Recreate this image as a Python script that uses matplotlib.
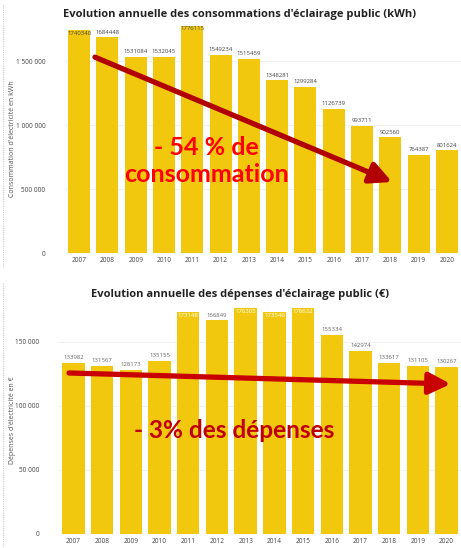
import matplotlib
matplotlib.use("Agg")
import matplotlib.pyplot as plt
from matplotlib.lines import Line2D
from matplotlib.ticker import FuncFormatter

years = [str(y) for y in range(2007, 2021)]
conso_kwh = [1740340, 1684448, 1531084, 1532045, 1776115, 1549234, 1515459,
             1348281, 1299284, 1126739, 993711, 902560, 764387, 801624]
depenses_eur = [133982, 131567, 128173, 135155, 173148, 166849, 176305,
                173546, 176632, 155334, 142974, 133617, 131105, 130267]

title_top = "Evolution annuelle des consommations d'éclairage public (kWh)"
title_bot = "Evolution annuelle des dépenses d'éclairage public (€)"
ylabel_top = "Consommation d'électricité en kWh"
ylabel_bot = "Dépenses d'électricité en €"
note_top = "- 54 % de\nconsommation"
note_bot = "- 3% des dépenses"

BAR = "#F2C80F"
W, H = 461, 548
fig = plt.figure(figsize=(W / 100, H / 100), dpi=100)
plt.rcParams['font.family'] = ['Open Sans', 'DejaVu Sans']

def fmt(v, pos):
    return f"{int(v):,}".replace(",", " ")

def make_axes(rect, values, ymax, ticks, inside_color, outside_color):
    ax = fig.add_axes(rect)
    x = range(len(values))
    ax.bar(x, values, width=0.78, color=BAR, zorder=2)
    ax.set_xlim(-0.5, len(values) - 0.5)
    ax.set_ylim(0, ymax)
    ax.set_yticks(ticks)
    ax.yaxis.set_major_formatter(FuncFormatter(fmt))
    ax.set_xticks(list(x))
    ax.set_xticklabels(years)
    ax.tick_params(axis='both', length=0, labelsize=4.7, colors="#444444")
    ax.tick_params(axis='x', pad=3)
    ax.tick_params(axis='y', pad=14)
    for s in ax.spines.values():
        s.set_visible(False)
    ax.grid(axis='y', color="#EEEEEE", lw=0.6, zorder=0)
    ax.set_axisbelow(True)
    for i, v in enumerate(values):
        if v > 0.96 * ymax:
            ax.annotate(str(v), (i, v), xytext=(0, -0.5), textcoords='offset points',
                        ha='center', va='top', fontsize=4.3, color=inside_color, zorder=3)
        else:
            ax.annotate(str(v), (i, v), xytext=(0, 2), textcoords='offset points',
                        ha='center', va='bottom', fontsize=4.3, color=outside_color, zorder=3)
    return ax

# top chart
ax1 = make_axes([65 / W, 1 - 253 / H, 396 / W, 228 / H], conso_kwh, 1781250,
                [0, 500000, 1000000, 1500000], "#444444", "#444444")
# bottom chart
ax2 = make_axes([59 / W, 1 - 534 / H, 402 / W, 228 / H], depenses_eur, 178125,
                [0, 50000, 100000, 150000], "white", "#666666")

fig.text(240 / W, 1 - 14 / H, title_top, ha='center', va='center',
         fontsize=8.0, fontweight='bold', color="#222222")
fig.text(240 / W, 1 - 295 / H, title_bot, ha='center', va='center',
         fontsize=8.0, fontweight='bold', color="#222222")
fig.text(13 / W, 1 - 139 / H, ylabel_top, rotation=90, ha='center', va='center',
         fontsize=5, color="#555555")
fig.text(13 / W, 1 - 420 / H, ylabel_bot, rotation=90, ha='center', va='center',
         fontsize=5, color="#555555")

# arrows
ax1.annotate("", xy=(11.06, 555000), xytext=(0.56, 1530000),
             arrowprops=dict(arrowstyle='-|>,head_width=0.65,head_length=1.3',
                             mutation_scale=10, lw=3.8, color="#B00000",
                             shrinkA=0, shrinkB=0), zorder=4)
ax2.annotate("", xy=(13.14, 117200), xytext=(-0.15, 125800),
             arrowprops=dict(arrowstyle='-|>,head_width=0.65,head_length=1.3',
                             mutation_scale=10, lw=3.8, color="#C80000",
                             shrinkA=0, shrinkB=0), zorder=4)

ax1.text(4.5, 720000, note_top, ha='center', va='center', fontsize=18,
         fontweight='bold', color="#FF0000", family=['Lato', 'DejaVu Sans'],
         linespacing=1.2, zorder=5)
ax2.text(5.6, 81000, note_bot, ha='center', va='center', fontsize=17.6,
         fontweight='bold', color="#C00000", family=['Lato', 'DejaVu Sans'], zorder=5)

# dotted frame edges on the left
fig.add_artist(Line2D([3 / W, 3 / W], [1 - 5 / H, 1 - 268 / H], ls=(0, (1, 1)),
                      color="#CCCCCC", lw=0.8))
fig.add_artist(Line2D([3 / W, 3 / W], [1 - 283 / H, 0], ls=(0, (1, 1)),
                      color="#CCCCCC", lw=0.8))

fig.savefig("out.png", dpi=100)
